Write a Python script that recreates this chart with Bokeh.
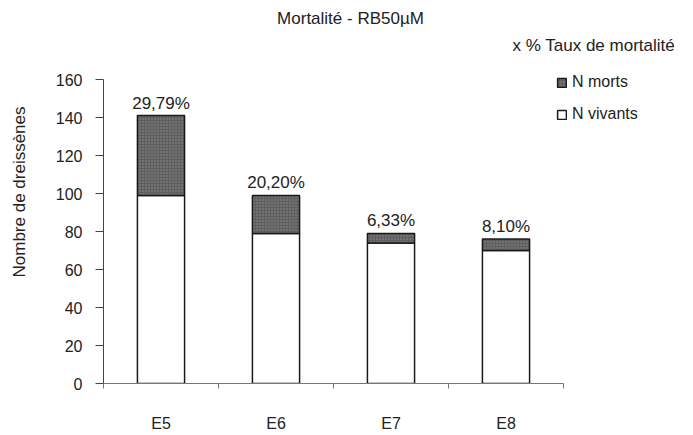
from bokeh.plotting import figure
from bokeh.models import (ColumnDataSource, Range1d, FixedTicker, Label, Legend, LegendItem)
from bokeh.core.properties import value
from bokeh.embed import file_html
from bokeh.resources import INLINE

# ---- data ----
categories = ["E5", "E6", "E7", "E8"]
n_vivants = [99, 79, 74, 70]
n_morts = [42, 20, 5, 6]
taux_labels = ["29,79%", "20,20%", "6,33%", "8,10%"]
y_ticks = [0, 20, 40, 60, 80, 100, 120, 140, 160]
y_max = 160

FONT = "Liberation Sans"
TXT = "#222222"

W, H = 693, 435
LEFT, BOTTOM = 103, 52          # frame margins (px)
PX_PER_CAT = 115.0
PX_PER_UNIT = 304.0 / y_max

xs = [i + 0.5 for i in range(len(categories))]
totals = [v + m for v, m in zip(n_vivants, n_morts)]
src = ColumnDataSource(dict(x=xs, viv=n_vivants, morts=n_morts, tot=totals, lab=taux_labels))

x_end = (W - LEFT) / PX_PER_CAT
y_end = (H - BOTTOM) / PX_PER_UNIT

p = figure(width=W, height=H, output_backend="svg", toolbar_location=None,
           x_range=Range1d(0, x_end), y_range=Range1d(0, y_end),
           min_border_left=LEFT, min_border_right=0, min_border_top=0, min_border_bottom=BOTTOM)
p.outline_line_color = None
p.xgrid.grid_line_color = None
p.ygrid.grid_line_color = None
p.background_fill_color = "white"
p.border_fill_color = "white"

bw = 0.41
r_viv = p.vbar(x="x", bottom=0, top="viv", width=bw, source=src,
               fill_color="white", line_color="#1a1a1a", line_width=1.5)
r_morts = p.vbar(x="x", bottom="viv", top="tot", width=bw, source=src,
                 fill_color="#5e5e5e", line_color="#1a1a1a", line_width=1.5,
                 hatch_pattern="dot", hatch_color="#9a9a9a", hatch_scale=3, hatch_weight=1,
                 hatch_alpha=0.8)

p.text(x="x", y="tot", text="lab", source=src, text_align="center", text_baseline="bottom",
       y_offset=-3, text_font=value(FONT), text_font_size="17px", text_color=TXT)

# y axis
ya = p.yaxis[0]
ya.bounds = (0, y_max)
ya.ticker = FixedTicker(ticks=y_ticks)
ya.minor_tick_line_color = None
ya.major_tick_out = 8
ya.major_tick_in = 0
ya.major_label_standoff = 13
ya.axis_line_color = "#444444"
ya.major_tick_line_color = "#444444"
ya.major_label_text_font = FONT
ya.major_label_text_font_size = "16px"
ya.major_label_text_color = TXT
ya.axis_label = "Nombre de dreissènes"
ya.axis_label_text_font = FONT
ya.axis_label_text_font_size = "17px"
ya.axis_label_text_font_style = "normal"
ya.axis_label_text_color = TXT
ya.axis_label_standoff = 24

# x axis
xa = p.xaxis[0]
xa.bounds = (0, len(categories))
xa.ticker = FixedTicker(ticks=xs, minor_ticks=list(range(len(categories) + 1)))
xa.major_label_overrides = {x: c for x, c in zip(xs, categories)}
xa.major_tick_out = 0
xa.major_tick_in = 0
xa.minor_tick_out = 5
xa.minor_tick_in = 0
xa.minor_tick_line_color = "#777777"
xa.axis_line_color = "#777777"
xa.major_label_standoff = 26
xa.major_label_text_font = FONT
xa.major_label_text_font_size = "16px"
xa.major_label_text_color = TXT

# title
p.add_layout(Label(x=247, y=365, x_units="screen", y_units="screen", text="Mortalité - RB50µM",
                   text_align="center", text_baseline="middle", text_font=FONT,
                   text_font_size="17px", text_color=TXT))
# legend header
p.add_layout(Label(x=409, y=338, x_units="screen", y_units="screen", text="x %  Taux  de  mortalité",
                   text_align="left", text_baseline="middle", text_font=FONT,
                   text_font_size="17px", text_color=TXT))

legend = Legend(items=[LegendItem(label="N morts", renderers=[r_morts]),
                       LegendItem(label="N vivants", renderers=[r_viv])],
                location=(453, 259), orientation="vertical",
                glyph_width=11, glyph_height=11, label_height=20, label_standoff=5,
                spacing=12, padding=0, margin=0,
                border_line_color=None, background_fill_alpha=0,
                label_text_font=FONT, label_text_font_size="16px", label_text_color=TXT)
p.add_layout(legend, "center")

open("out.html", "w").write(file_html(p, INLINE))
